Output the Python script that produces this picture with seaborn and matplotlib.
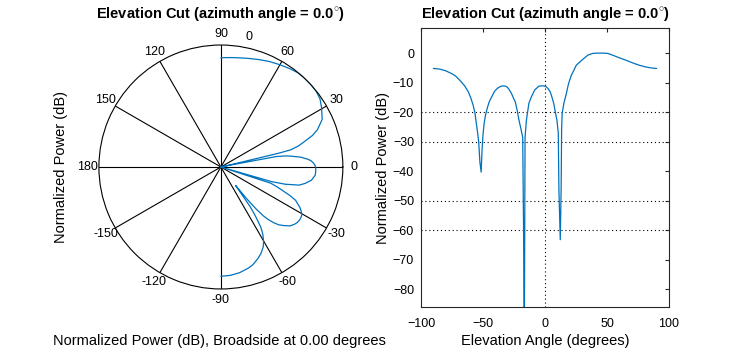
import numpy as np
import matplotlib
matplotlib.use("Agg")
import matplotlib.pyplot as plt
import seaborn as sns

# ---- data ----
elev_deg = [-90, -85, -80, -75, -72, -68, -65, -62, -60, -58, -56.5, -55.5, -54.5, -53.5,
            -52.5, -51.5, -50.8, -50, -49, -48, -46.5, -45, -43, -40.5, -38, -36, -34, -32,
            -30.5, -29, -27, -25.5, -24, -22.5, -21, -19.5, -18, -17.3, -16.7, -16.1, -15,
            -13, -11, -8.3, -5, -3, -1, 0, 1, 2.4, 4, 5.1, 7, 8.3, 9.6, 10.7, 11.2, 12.3,
            13.0, 13.4, 13.8, 15.2, 17.2, 19, 21.2, 23.3, 25.2, 30.5, 34.5, 38.5, 42, 47,
            50.6, 54.6, 60, 65.3, 70.6, 76, 81.4, 85.4, 90]
power_db = [-5.2, -5.4, -6.0, -7.0, -7.8, -9.5, -11.0, -13.0, -15.0, -17.6, -20.3, -23.5, -26.5, -30.0,
            -37.0, -40.3, -33.0, -27.5, -23.5, -21.0, -18.5, -16.5, -14.8, -12.8, -11.8, -11.3, -11.1, -11.2,
            -11.5, -12.3, -13.7, -15.2, -16.5, -19.3, -22.7, -25.5, -28.5, -59.0, -100.0, -28.5, -22.7,
            -17.0, -14.8, -12.5, -11.2, -11.1, -11.1, -11.2, -11.4, -12.0, -13.0, -14.2, -17.0, -19.9, -22.7, -27.0, -46.0, -63.2,
            -46.0, -26.0, -20.5, -17.0, -13.7, -10.3, -7.5, -5.8, -4.1, -2.1, -0.7, -0.1, 0.0, 0.0,
            -0.1, -0.7, -1.6, -2.4, -3.3, -4.1, -4.7, -5.0, -5.2]
polar_floor_db = -50
theta_ticks = [0, 30, 60, 90, 120, 150, 180, 210, 240, 270, 300, 330]
theta_labels = ["0", "30", "60", "90", "120", "150", "180", "-150", "-120", "-90", "-60", "-30"]
x_ticks = [-100, -50, 0, 50, 100]
y_ticks = [-80, -70, -60, -50, -40, -30, -20, -10, 0]
grid_y = [-20, -30, -50, -60]
grid_x = [0]

title_txt = r"Elevation Cut (azimuth angle = 0.0$^{\circ}$)"
line_color = "#0072BD"
axis_color = "#262626"

sns.set_theme(style="white")
plt.rcParams["font.family"] = ["Liberation Sans", "DejaVu Sans"]
plt.rcParams["mathtext.fontset"] = "custom"
plt.rcParams["mathtext.rm"] = "Liberation Sans"
plt.rcParams["mathtext.bf"] = "Liberation Sans:bold"
plt.rcParams["text.color"] = "black"
plt.rcParams["axes.labelcolor"] = "black"

fig = plt.figure(figsize=(7.38, 3.49), dpi=100)

# ---- left: polar plot ----
pax = fig.add_axes([0.134, 0.172, 0.3306, 0.699], projection="polar")
theta = np.deg2rad(np.array(elev_deg))
rad = np.clip(np.array(power_db) - polar_floor_db, 0, None)
sns.lineplot(x=theta, y=rad, ax=pax, color=line_color, lw=0.9, estimator=None, sort=False)
pax.set_ylim(0, -polar_floor_db)
pax.set_yticks([])
pax.yaxis.grid(False)
pax.set_thetagrids(theta_ticks, labels=theta_labels)
pax.xaxis.grid(True, color="black", linewidth=0.8, linestyle="-")
pax.spines["polar"].set_color("black")
pax.spines["polar"].set_linewidth(0.8)
pax.tick_params(axis="x", labelsize=9, pad=-5, colors="black")
pax.set_xlabel("")
pax.set_ylabel("")
pax.set_facecolor("white")
pax.text(np.deg2rad(78), -polar_floor_db * 1.09, "0", ha="center", va="center", fontsize=9)
fig.text(220 / 738, 1 - 15 / 349, title_txt, ha="center", va="center", fontsize=10.5, fontweight="bold")
fig.text(61 / 738, 1 - 167 / 349, "Normalized Power (dB)", rotation=90, ha="center", va="center", fontsize=10.5)
fig.text(219 / 738, 1 - 341 / 349, "Normalized Power (dB), Broadside at 0.00 degrees", ha="center", va="center", fontsize=10.5)

# ---- right: rectangular plot ----
ax = fig.add_axes([0.5705, 0.1203, 0.336, 0.7994])
for gy in grid_y:
    ax.axhline(gy, color="black", lw=0.8, ls=(0, (1, 2.5)), zorder=0)
for gx in grid_x:
    ax.axvline(gx, color="black", lw=0.8, ls=(0, (1, 2.5)), zorder=0)
sns.lineplot(x=elev_deg, y=power_db, ax=ax, color=line_color, lw=0.9, estimator=None, sort=False)
ax.set_xlim(-100, 100)
ax.set_ylim(-86, 8.5)
ax.set_xticks(x_ticks)
ax.set_yticks(y_ticks)
ax.tick_params(direction="in", top=True, right=True, length=3, width=0.8,
               labelsize=9, colors=axis_color, labelcolor="black")
ax.tick_params(axis="x", pad=8)
ax.tick_params(axis="y", pad=5)
for s in ax.spines.values():
    s.set_color(axis_color)
    s.set_linewidth(0.8)
ax.set_xlabel("Elevation Angle (degrees)", fontsize=10.5, labelpad=3)
ax.set_ylabel("Normalized Power (dB)", fontsize=10.5, labelpad=2)
fig.text(545 / 738, 1 - 15 / 349, title_txt, ha="center", va="center", fontsize=10.5, fontweight="bold")

fig.savefig("out.png", dpi=100, facecolor="white")
